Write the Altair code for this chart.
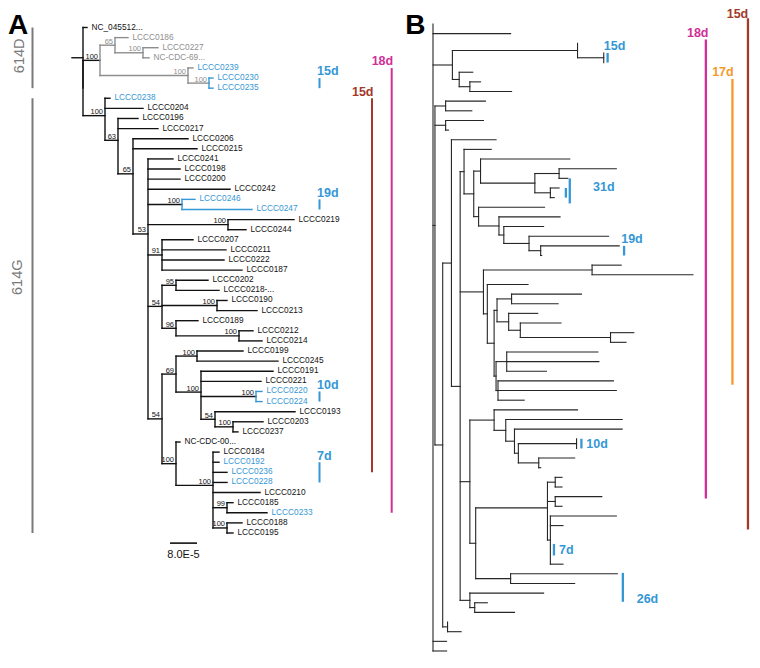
import altair as alt
import pandas as pd

# ---------------------------------------------------------------- data
# Panel A tree (Newick). Branch lengths in units where the 8.0E-5 scale bar = 27.
A_614D = ("((LCCC0186:13,(LCCC0227:15,NC-CDC-69...:6)100:28)65:15,"
          "(LCCC0239:5,(LCCC0230:4,LCCC0235:4)100:21)100:88)100:17")
A_54A = ("((LCCC0202:32,LCCC0218-...:43)95:14,(LCCC0190:10,LCCC0213:40)100:55,"
         "(LCCC0189:22,(LCCC0212:14,LCCC0214:23)100:63)96:14)54:14")
A_69 = ("((LCCC0199:46,LCCC0245:81)100:21,(LCCC0191:72,LCCC0221:60,"
        "(LCCC0220:6,LCCC0224:6)100:55,(LCCC0193:80,(LCCC0203:30,LCCC0237:5)100:18)54:14)100:25)69:14")
A_BOT = ("(NC-CDC-00...:4,(LCCC0184:6,LCCC0192:6,LCCC0236:14,LCCC0228:14,LCCC0210:47,"
         "(LCCC0185:6,LCCC0233:40)99:14,(LCCC0188:15,LCCC0195:6)100:14)100:37)100:14")
A_53 = ("(LCCC0241:25,LCCC0198:32,LCCC0200:32,LCCC0242:82,(LCCC0246:13,LCCC0247:70)100:34,"
        "(LCCC0219:66,LCCC0244:18)100:80,(LCCC0207:31,LCCC0211:64,LCCC0222:62,LCCC0187:80)91:14,"
        + A_54A + ",(" + A_69 + "," + A_BOT + ")54:14)53:15")
A_614G = ("(LCCC0238:5,LCCC0204:38,(LCCC0196:20,LCCC0217:40,(LCCC0206:55,LCCC0215:64,"
          + A_53 + ")65:15)63:13)100:22")
TREE_A = "(NC_045512...:4,(" + A_614D + "," + A_614G + "):0):11;"

GRAY_CLADE_A = ("LCCC0186", "LCCC0235")
BLUE_CLADES_A = [("LCCC0230", "LCCC0235"), ("LCCC0246", "LCCC0247"), ("LCCC0220", "LCCC0224")]
BLUE_LABELS_A = ["LCCC0239", "LCCC0230", "LCCC0235", "LCCC0238", "LCCC0246", "LCCC0247",
                 "LCCC0220", "LCCC0224", "LCCC0192", "LCCC0236", "LCCC0228", "LCCC0233"]
GRAY_LABELS_A = ["LCCC0186", "LCCC0227", "NC-CDC-69..."]

# Panel A annotations
ANN_A_TEXT = ["15d", "19d", "10d", "7d", "15d", "18d"]
ANN_A_COL = ["blue", "blue", "blue", "blue", "brown", "pink"]
ANN_A_X = [247.5, 247.5, 247.5, 247.5, 300, 319.7]
ANN_A_FROM = ["LCCC0230", "LCCC0246", "LCCC0220", "LCCC0192", "LCCC0238", "LCCC0239"]
ANN_A_TO = ["LCCC0235", "LCCC0247", "LCCC0224", "LCCC0228", "LCCC0236", "LCCC0233"]
ANN_A_SIDE = ["left", "left", "left", "left", "right", "right"]
GROUP_TEXT = ["614D", "614G"]
GROUP_FROM = ["NC_045512...", "LCCC0238"]
GROUP_TO = ["LCCC0235", "LCCC0195"]
GROUP_LABEL_Y = [2.8, 24.7]
SCALE_BAR_LEN = 27
SCALE_BAR_TEXT = "8.0E-5"

# Panel B tree (unlabelled leaves)
B_453 = "((:0,(:0,:0):27):129,(:14,(:11,:43):11):7):20"
B_482 = "(:92,((:59,:9):25,(:9,:4):16):56):7"
B_480 = "(:68,(:63,(:41,(:82,(:81,:1):12):26):5):21):5"
B_465 = "(:28,(" + B_482 + "," + B_480 + "):10):4"
B_499 = "((:72,:48):15,(:30,(:42,(:24,:16):93):12):12):3"
B_498 = "((:94,:95,:41):11,(:119,:122,:27):2):2"
B_485 = "((:30,:104):112,(:42,(" + B_499 + "," + B_498 + "):7):4):24"
B_477 = "(((:7,:7):8,(:48,:7):8,(:68,:13,:0,:0,:0,:13):3):74,(:110,:66):36):6"
B_471 = "((:86,(:120,(:111,((:0,:0):60,(:37,:2):21):4):9):12):25," + B_477 + "):10"
B_471b = "(:76,(:13,:41):5):10"
B_461 = "(" + B_465 + "," + B_485 + "," + B_471 + "," + B_471b + "):9"
B_443 = "((:46," + B_461 + "):9,(:0,:14):5):8"
B_435 = "((:41,:27):11,(:39,:3):11," + B_443 + "):2"
TREE_B = "(:0,:80," + B_453 + "," + B_435 + ",:14,:14):0;"

# Panel B annotations (y in leaf-row units)
BAR_B_X = [180, 137, 141, 197, 153, 124.7, 195.7, 281.3, 308.7, 324.7]
BAR_B_Y0 = [3, 17, 16, 23, 43, 53.9, 56.9, 1.6, 5.7, -0.6]
BAR_B_Y1 = [4, 18, 18.6, 24, 44, 55.1, 59.9, 49.2, 37.4, 52.4]
BAR_B_COL = ["blue"] * 7 + ["pink", "orange", "brown"]
LAB_B_TEXT = ["15d", "31d", "19d", "10d", "7d", "26d", "18d", "17d", "15d"]
LAB_B_X = [176, 165, 194, 158, 130, 210, 284, 310, 325]
LAB_B_Y = [2.3, 16.9, 22.3, 43.5, 54.5, 59.6, 0.94, 5.0, -1.0]
LAB_B_COL = ["blue"] * 6 + ["pink", "orange", "brown"]
LAB_B_SIDE = ["left"] * 6 + ["right"] * 3

PALETTE = {"blue": "#3597d5", "pink": "#cf2f98", "brown": "#a3392a",
           "orange": "#f59a2a", "gray": "#8e8e8e", "black": "#111111"}
GROUP_GRAY = "#7a7a7a"
FONT = "Liberation Sans"


# ---------------------------------------------------------------- helpers
def parse_newick(s):
    pos = 0

    def node():
        nonlocal pos
        n = {"children": [], "name": "", "len": 0.0}
        if s[pos] == "(":
            pos += 1
            n["children"].append(node())
            while s[pos] == ",":
                pos += 1
                n["children"].append(node())
            pos += 1
        start = pos
        while s[pos] not in ":,();":
            pos += 1
        n["name"] = s[start:pos]
        if s[pos] == ":":
            pos += 1
            start = pos
            while s[pos] not in ",();":
                pos += 1
            n["len"] = float(s[start:pos])
        return n

    return node()


def layout(root):
    nodes, leaves = [], []

    def walk(n, x0, parent):
        n["x0"], n["x"], n["parent"] = x0, x0 + n["len"], parent
        nodes.append(n)
        if n["children"]:
            for c in n["children"]:
                walk(c, n["x"], n)
            ys = [c["y"] for c in n["children"]]
            n["y"], n["ymin"], n["ymax"] = sum(ys) / len(ys), min(ys), max(ys)
            n["leafset"] = set().union(*[c["leafset"] for c in n["children"]])
        else:
            n["y"] = float(len(leaves))
            n["leafset"] = {n["name"]}
            leaves.append(n)

    walk(root, 0.0, None)
    return nodes, leaves


def mrca(nodes, a, b):
    best = None
    for n in nodes:
        if a in n["leafset"] and b in n["leafset"]:
            if best is None or len(n["leafset"]) < len(best["leafset"]):
                best = n
    return best


def segments(nodes):
    rows = []
    for n in nodes:
        pc = n["parent"]["inner"] if n["parent"] is not None else n["inner"]
        if n["len"] > 0:
            rows.append(dict(x=n["x0"], x2=n["x"], y=n["y"], y2=n["y"], c=PALETTE[pc]))
        if n["children"]:
            rows.append(dict(x=n["x"], x2=n["x"], y=n["ymin"], y2=n["ymax"],
                             c=PALETTE[n["inner"]]))
    return pd.DataFrame(rows)


# ---------------------------------------------------------------- panel A
rootA = parse_newick(TREE_A)
nodesA, leavesA = layout(rootA)
gray_node = mrca(nodesA, *GRAY_CLADE_A)
blue_nodes = [id(mrca(nodesA, a, b)) for a, b in BLUE_CLADES_A]


def assign(n, col):
    if n is gray_node:
        col = "gray"
    if id(n) in blue_nodes:
        col = "blue"
    n["inner"] = col
    for c in n["children"]:
        assign(c, col)


assign(rootA, "black")
segA = segments(nodesA)
leaf_idx = {l["name"]: l["y"] for l in leavesA}

leafA = pd.DataFrame([dict(x=l["x"], y=l["y"], name=l["name"],
                           c=PALETTE["blue"] if l["name"] in BLUE_LABELS_A else
                           (PALETTE["gray"] if l["name"] in GRAY_LABELS_A else PALETTE["black"]))
                      for l in leavesA])
suppA = pd.DataFrame([dict(x=n["x"], y=n["y"], name=n["name"],
                           c=PALETTE[n["parent"]["inner"]])
                      for n in nodesA if n["children"] and n["name"]])

annA = pd.DataFrame(dict(text=ANN_A_TEXT, c=[PALETTE[k] for k in ANN_A_COL], x=ANN_A_X,
                         y0=[leaf_idx[a] for a in ANN_A_FROM], y1=[leaf_idx[b] for b in ANN_A_TO],
                         side=ANN_A_SIDE))
annA["ly"] = annA["y0"] - 0.65
grpA = pd.DataFrame(dict(text=GROUP_TEXT, x=[-39.5, -39.5], lx=[-52, -54],
                         y0=[leaf_idx[a] for a in GROUP_FROM], y1=[leaf_idx[b] for b in GROUP_TO],
                         ly=GROUP_LABEL_Y))
scaleA = pd.DataFrame(dict(x=[98], x2=[98 + SCALE_BAR_LEN], y=[51.0],
                           tx=[98 + SCALE_BAR_LEN / 2], ty=[52.2], text=[SCALE_BAR_TEXT]))
letterA = pd.DataFrame(dict(x=[-64], y=[0.6], text=["A"]))

WA, WB, H = 396, 346, 645
xA = alt.Scale(domain=[-64, 332], nice=False, zero=False)
yA = alt.Scale(domain=[-19.5 / 10.11, (H - 19.5) / 10.11], reverse=True, nice=False, zero=False)


def X(f, s):
    return alt.X(f, scale=s, axis=None)


def Y(f, s):
    return alt.Y(f, scale=s, axis=None)


colr = alt.Color("c:N", scale=None, legend=None)

layersA = [
    alt.Chart(segA).mark_rule(strokeWidth=1.4, strokeCap="square").encode(
        x=X("x:Q", xA), x2="x2:Q", y=Y("y:Q", yA), y2="y2:Q", color=colr),
    alt.Chart(leafA).mark_text(align="left", baseline="middle", dx=4.5, fontSize=8.3, font=FONT).encode(
        x=X("x:Q", xA), y=Y("y:Q", yA), text="name:N", color=colr),
    alt.Chart(suppA).mark_text(align="right", baseline="alphabetic", dx=-2, dy=-1.5,
                               fontSize=7.5, font=FONT).encode(
        x=X("x:Q", xA), y=Y("y:Q", yA), text="name:N", color=colr),
    alt.Chart(annA).mark_rule(strokeWidth=2).encode(
        x=X("x:Q", xA), y=Y("y0:Q", yA), y2="y1:Q", color=colr),
    alt.Chart(annA[annA.side == "left"]).mark_text(
        align="left", baseline="middle", dx=-2.5, fontSize=12.5, fontWeight="bold", font=FONT).encode(
        x=X("x:Q", xA), y=Y("ly:Q", yA), text="text:N", color=colr),
    alt.Chart(annA[annA.side == "right"]).mark_text(
        align="right", baseline="middle", dx=1.5, fontSize=12.5, fontWeight="bold", font=FONT).encode(
        x=X("x:Q", xA), y=Y("ly:Q", yA), text="text:N", color=colr),
    alt.Chart(grpA).mark_rule(strokeWidth=2, color=GROUP_GRAY).encode(
        x=X("x:Q", xA), y=Y("y0:Q", yA), y2="y1:Q"),
    alt.Chart(grpA).mark_text(angle=270, align="center", baseline="middle", fontSize=14.5,
                              font=FONT, color=GROUP_GRAY).encode(
        x=X("lx:Q", xA), y=Y("ly:Q", yA), text="text:N"),
    alt.Chart(scaleA).mark_rule(strokeWidth=1.6, color="#111111").encode(
        x=X("x:Q", xA), x2="x2:Q", y=Y("y:Q", yA)),
    alt.Chart(scaleA).mark_text(align="center", baseline="middle", fontSize=11, font=FONT,
                                color="#111111").encode(
        x=X("tx:Q", xA), y=Y("ty:Q", yA), text="text:N"),
    alt.Chart(letterA).mark_text(align="left", baseline="alphabetic", fontSize=28, fontWeight="bold",
                                 font=FONT, color="#000000").encode(
        x=X("x:Q", xA), y=Y("y:Q", yA), text="text:N"),
]
chartA = alt.layer(*layersA).properties(width=WA, height=H)

# ---------------------------------------------------------------- panel B
rootB = parse_newick(TREE_B)
nodesB, leavesB = layout(rootB)
for n in nodesB:
    n["inner"] = "black"
segB = segments(nodesB)
segB["c"] = "#262626"

barB = pd.DataFrame(dict(x=BAR_B_X, y0=BAR_B_Y0, y1=BAR_B_Y1, c=[PALETTE[k] for k in BAR_B_COL]))
labB = pd.DataFrame(dict(x=LAB_B_X, y=LAB_B_Y, text=LAB_B_TEXT, c=[PALETTE[k] for k in LAB_B_COL],
                         side=LAB_B_SIDE))
letterB = pd.DataFrame(dict(x=[-28.5], y=[1.0], text=["B"]))

xB = alt.Scale(domain=[-29.9, 326.8], nice=False, zero=False)
yB = alt.Scale(domain=[-16 / 9.646, (H - 16) / 9.646], reverse=True, nice=False, zero=False)

layersB = [
    alt.Chart(segB).mark_rule(strokeWidth=1.1, strokeCap="square").encode(
        x=X("x:Q", xB), x2="x2:Q", y=Y("y:Q", yB), y2="y2:Q", color=colr),
    alt.Chart(barB).mark_rule(strokeWidth=2.3).encode(
        x=X("x:Q", xB), y=Y("y0:Q", yB), y2="y1:Q", color=colr),
    alt.Chart(labB[labB.side == "left"]).mark_text(
        align="left", baseline="middle", fontSize=12.5, fontWeight="bold", font=FONT).encode(
        x=X("x:Q", xB), y=Y("y:Q", yB), text="text:N", color=colr),
    alt.Chart(labB[labB.side == "right"]).mark_text(
        align="right", baseline="middle", fontSize=12.5, fontWeight="bold", font=FONT).encode(
        x=X("x:Q", xB), y=Y("y:Q", yB), text="text:N", color=colr),
    alt.Chart(letterB).mark_text(align="left", baseline="alphabetic", fontSize=28, fontWeight="bold",
                                 font=FONT, color="#000000").encode(
        x=X("x:Q", xB), y=Y("y:Q", yB), text="text:N"),
]
chartB = alt.layer(*layersB).properties(width=WB, height=H)

chart = alt.hconcat(chartA, chartB, spacing=0).properties(padding=0, background="white") \
    .configure_view(stroke=None)
chart.save("out.html", embed_options={"renderer": "svg", "actions": False})
